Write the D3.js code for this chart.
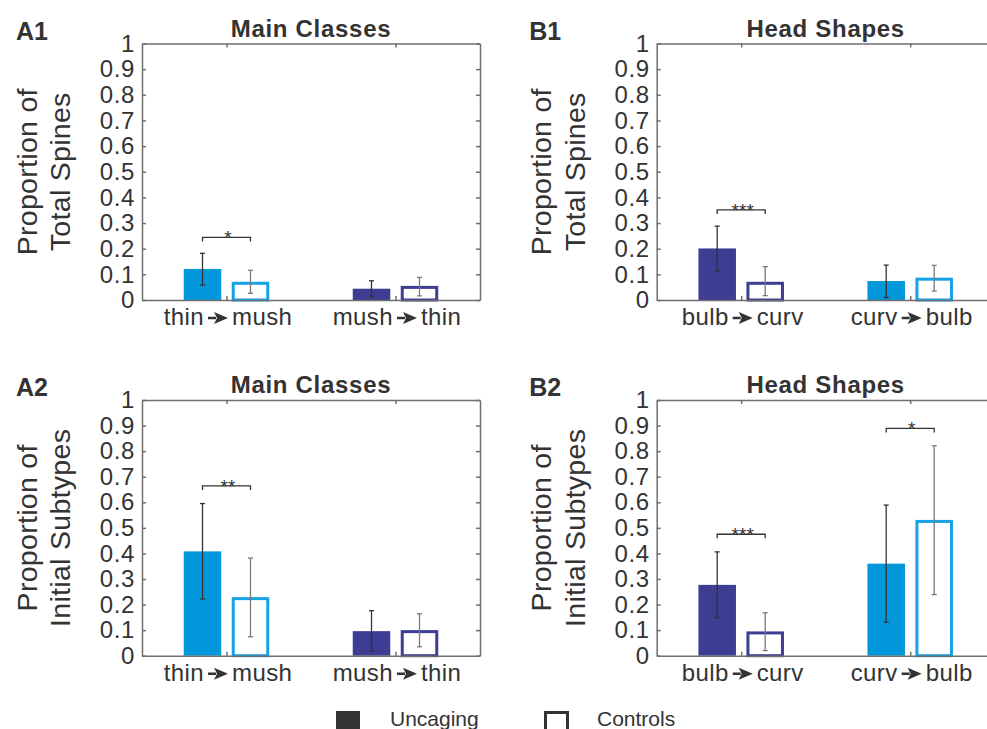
<!DOCTYPE html>
<html><head><meta charset="utf-8">
<script src="https://cdn.jsdelivr.net/npm/d3@7"></script>
<style>
body{margin:0;background:#fff;}
svg text{font-family:"Liberation Sans",Arial,sans-serif;fill:#333;}
</style></head>
<body><svg id="c" width="987" height="729"></svg>
<script>
// ---- data ----
const yTicks = [0,0.1,0.2,0.3,0.4,0.5,0.6,0.7,0.8,0.9,1];
const yTickLabels = ["0","0.1","0.2","0.3","0.4","0.5","0.6","0.7","0.8","0.9","1"];
const mainCats = [["thin","mush"],["mush","thin"]];
const headCats = [["bulb","curv"],["curv","bulb"]];
const seriesNames = ["Uncaging","Controls"];

const a1Uncaging = [0.121, 0.044];
const a1UncagingErr = [[0.058,0.182],[0.013,0.075]];
const a1Controls = [0.071, 0.055];
const a1ControlsErr = [[0.026,0.116],[0.016,0.088]];

const b1Uncaging = [0.201, 0.074];
const b1UncagingErr = [[0.113,0.288],[0.010,0.136]];
const b1Controls = [0.071, 0.087];
const b1ControlsErr = [[0.017,0.130],[0.035,0.135]];

const a2Uncaging = [0.408, 0.096];
const a2UncagingErr = [[0.222,0.595],[0.018,0.176]];
const a2Controls = [0.229, 0.100];
const a2ControlsErr = [[0.074,0.382],[0.035,0.164]];

const b2Uncaging = [0.277, 0.360];
const b2UncagingErr = [[0.149,0.406],[0.131,0.589]];
const b2Controls = [0.095, 0.531];
const b2ControlsErr = [[0.020,0.168],[0.239,0.821]];

// significance: [group index, bracket level, label]
const a1Sig = [[0, 0.244, "*"]];
const b1Sig = [[0, 0.351, "***"]];
const a2Sig = [[0, 0.664, "**"]];
const b2Sig = [[0, 0.475, "***"],[1, 0.889, "*"]];

// ---- styles ----
const LIGHT = "#0098da", LIGHT_LINE = "#16a2e6", DARK = "#3c3d93";
const AXIS = "#6e6e6e";

const panels = [
  {id:"A1", title:"Main Classes", yl:["Proportion of","Total Spines"], cats:mainCats, unc:a1Uncaging, uncE:a1UncagingErr, ctl:a1Controls, ctlE:a1ControlsErr, sig:a1Sig, colors:[LIGHT,DARK], x0:142, top:43.5, bot:300},
  {id:"B1", title:"Head Shapes", yl:["Proportion of","Total Spines"], cats:headCats, unc:b1Uncaging, uncE:b1UncagingErr, ctl:b1Controls, ctlE:b1ControlsErr, sig:b1Sig, colors:[DARK,LIGHT], x0:656.7, top:43.5, bot:300},
  {id:"A2", title:"Main Classes", yl:["Proportion of","Initial Subtypes"], cats:mainCats, unc:a2Uncaging, uncE:a2UncagingErr, ctl:a2Controls, ctlE:a2ControlsErr, sig:a2Sig, colors:[LIGHT,DARK], x0:142, top:400, bot:655.7},
  {id:"B2", title:"Head Shapes", yl:["Proportion of","Initial Subtypes"], cats:headCats, unc:b2Uncaging, uncE:b2UncagingErr, ctl:b2Controls, ctlE:b2ControlsErr, sig:b2Sig, colors:[DARK,LIGHT], x0:656.7, top:400, bot:655.7}
];

const svg = d3.select("#c");
const W = 338, OFF = 0.142, BW = 0.222;

panels.forEach(p => {
  const g = svg.append("g");
  const x = d3.scaleLinear().domain([0.5,2.5]).range([p.x0, p.x0+W]);
  const y = d3.scaleLinear().domain([0,1]).range([p.bot, p.top]);
  const lx = p.id[0]==="A" ? 16 : 529.3;

  // panel letter
  g.append("text").attr("x", lx).attr("y", p.top - 4).attr("font-size", 25).attr("font-weight","bold").text(p.id);
  // title
  g.append("text").attr("x", p.x0 + W/2).attr("y", p.top - 7).attr("text-anchor","middle")
    .attr("font-size", 24).attr("letter-spacing", 0.7).attr("font-weight","bold").text(p.title);
  // y label
  const ym = (p.top + p.bot)/2;
  p.yl.forEach((t,i) => {
    g.append("text").attr("transform", `translate(${p.x0 - 105.5 + i*33.5},${ym}) rotate(-90)`)
      .attr("text-anchor","middle").attr("font-size", 28.5).attr("letter-spacing", 0.3).text(t);
  });

  // bars
  [0,1].forEach(gi => {
    const c = gi + 1;
    const col = p.colors[gi];
    g.append("rect").attr("x", x(c - OFF - BW/2)).attr("width", x(c - OFF + BW/2) - x(c - OFF - BW/2))
      .attr("y", y(p.unc[gi])).attr("height", y(0) - y(p.unc[gi])).attr("fill", col);
    const sw = 3;
    const lineCol = col === LIGHT ? LIGHT_LINE : col;
    g.append("rect").attr("x", x(c + OFF - BW/2) + sw/2).attr("width", x(c + OFF + BW/2) - x(c + OFF - BW/2) - sw)
      .attr("y", y(p.ctl[gi]) + sw/2).attr("height", y(0) - y(p.ctl[gi]) - sw/2)
      .attr("fill", "#fff").attr("stroke", lineCol).attr("stroke-width", sw);
    [[c - OFF, p.uncE[gi], "#333"], [c + OFF, p.ctlE[gi], "#7a7a7a"]].forEach(([cx, e, ec]) => {
      const X = x(cx);
      g.append("line").attr("x1", X).attr("x2", X).attr("y1", y(e[0])).attr("y2", y(e[1])).attr("stroke", ec).attr("stroke-width", 1.3);
      e.forEach(v => g.append("line").attr("x1", X-2.5).attr("x2", X+2.5).attr("y1", y(v)).attr("y2", y(v)).attr("stroke", ec).attr("stroke-width", 1.3));
    });
  });

  // axes (box with inward ticks)
  const tf = (d,i) => yTickLabels[i];
  const ax = g.append("g").attr("transform", `translate(${p.x0},0)`)
    .call(d3.axisLeft(y).tickValues(yTicks).tickFormat(tf).tickSizeInner(-4).tickSizeOuter(0).tickPadding(7));
  ax.selectAll("text").attr("font-size", 24).attr("letter-spacing", 0.6).attr("fill", "#333").attr("font-family", null);
  const ar = g.append("g").attr("transform", `translate(${p.x0+W},0)`)
    .call(d3.axisRight(y).tickValues(yTicks).tickFormat("").tickSizeInner(-4).tickSizeOuter(0));
  const at = g.append("g").attr("transform", `translate(0,${p.top})`)
    .call(d3.axisTop(x).tickValues([1,2]).tickFormat("").tickSizeInner(-4).tickSizeOuter(0));
  const ab = g.append("g").attr("transform", `translate(0,${p.bot})`)
    .call(d3.axisBottom(x).tickValues([1,2]).tickFormat("").tickSizeInner(-4).tickSizeOuter(0));
  [ax, ar, at, ab].forEach(a => { a.selectAll("path,line").attr("stroke", AXIS).attr("stroke-width", 1.5); });

  // category labels: word, arrow, word
  p.cats.forEach((pair, gi) => {
    const cx = x(gi+1) + 1.5, by = p.bot + 25;
    const t0 = g.append("text").attr("y", by).attr("font-size", 24).attr("letter-spacing", 0.4).text(pair[0]);
    const t1 = g.append("text").attr("y", by).attr("font-size", 24).attr("letter-spacing", 0.4).text(pair[1]);
    const w0 = t0.node().getComputedTextLength(), w1 = t1.node().getComputedTextLength();
    const gap = 4, aw = 20;
    const total = w0 + gap + aw + gap + w1;
    const s = cx - total/2;
    t0.attr("x", s);
    const ax0 = s + w0 + gap, ay = by - 7;
    t1.attr("x", ax0 + aw + gap);
    g.append("path").attr("d", `M${ax0},${ay-1.2}H${ax0+8}V${ay+1.2}H${ax0}Z M${ax0+6},${ay-6}L${ax0+aw},${ay}L${ax0+6},${ay+6}L${ax0+9},${ay}Z`)
      .attr("fill", "#333");
  });

  // significance brackets
  p.sig.forEach(([gi, lvl, lab]) => {
    const c = gi + 1, yb = y(lvl);
    g.append("path").attr("d", `M${x(c-OFF)},${yb+4}V${yb}H${x(c+OFF)}V${yb+4}`)
      .attr("fill","none").attr("stroke","#333").attr("stroke-width",1.3);
    g.append("text").attr("x", x(c) + 1.5).attr("y", yb + 7).attr("text-anchor","middle").attr("font-size", 19).text(lab);
  });
});

// legend
const lg = svg.append("g");
lg.append("rect").attr("x", 336).attr("y", 711).attr("width", 24).attr("height", 24).attr("fill", "#333");
lg.append("text").attr("x", 390).attr("y", 726).attr("font-size", 21).text(seriesNames[0]);
lg.append("rect").attr("x", 545.5).attr("y", 712.5).attr("width", 22).attr("height", 22).attr("fill","#fff").attr("stroke", "#333").attr("stroke-width", 3);
lg.append("text").attr("x", 597).attr("y", 726).attr("font-size", 21).text(seriesNames[1]);
</script></body></html>
